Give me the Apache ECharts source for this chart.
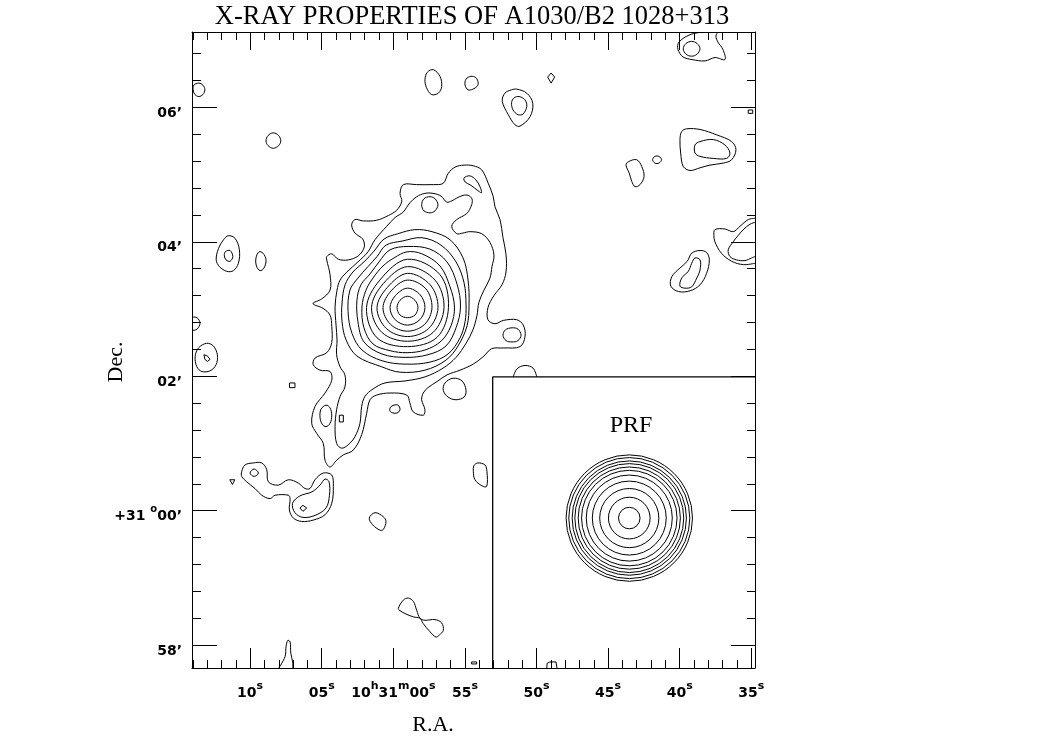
<!DOCTYPE html>
<html>
<head>
<meta charset="utf-8">
<script src="https://cdn.jsdelivr.net/npm/echarts@6/dist/echarts.min.js"></script>
<style>
  html, body { margin: 0; padding: 0; background: #fff; }
  #chart { width: 1039px; height: 742px; }
</style>
</head>
<body>
<div id="chart"></div>
<script>
// Axis ranges: x = RA seconds after 10h30m (east to the left), y = Dec offset from +31°00' in arcmin
const raRange = [34.74, 74.06];
const decRange = [-2.34, 7.12];

// Tick positions and labels
const raMajor = [70, 65, 60, 55, 50, 45, 40, 35];
const raMinor = [74, 73, 72, 71, 69, 68, 67, 66, 64, 63, 62, 61, 59, 58, 57, 56, 54, 53, 52, 51,
                 49, 48, 47, 46, 44, 43, 42, 41, 39, 38, 37, 36];
const raLabels = ['{n|10}{u|s}', '{n|05}{u|s}', '{n|10}{u|h}{n|31}{u|m}{n|00}{u|s}', '{n|55}{u|s}',
                  '{n|50}{u|s}', '{n|45}{u|s}', '{n|40}{u|s}', '{n|35}{u|s}'];
const decMajor = [6, 4, 2, 0, -2];
const decMinor = [6.8, 6.4, 5.6, 5.2, 4.8, 4.4, 3.6, 3.2, 2.8, 2.4, 1.6, 1.2, 0.8, 0.4,
                  -0.4, -0.8, -1.2, -1.6];
const decLabels = ['{n|06’}', '{n|04’}', '{n|02’}', '{n|+31 }{u|o}{n|00’}', '{n|58’}'];

// Cluster emission: nested iso-intensity contours [RA s, Dec ']
const ring1 = [[58.28,3.02],[58.49,3.13],[59.01,3.19],[59.53,3.13],[59.74,3.02],[59.53,2.91],[59.01,2.87],[58.49,2.91]];
const ring2 = [[57.79,3.02],[58.12,3.21],[59.01,3.31],[59.85,3.20],[60.23,3.02],[59.87,2.84],[59.01,2.76],[58.15,2.84]];
const ring3 = [[57.30,3.02],[57.73,3.30],[59.01,3.43],[60.15,3.27],[60.72,3.02],[60.19,2.77],[59.01,2.67],[57.82,2.77]];
const ring4 = [[56.88,3.02],[57.43,3.36],[59.01,3.53],[60.42,3.32],[61.14,3.02],[60.49,2.71],[59.01,2.59],[57.53,2.71]];
const ring5 = [[56.46,3.02],[57.09,3.43],[59.01,3.63],[60.69,3.38],[61.52,3.02],[60.79,2.65],[59.01,2.52],[57.23,2.65]];
const ring6 = [[56.15,3.02],[56.74,3.51],[59.01,3.74],[60.94,3.43],[61.87,3.02],[61.13,2.57],[59.01,2.44],[56.94,2.58]];
const ring7 = [[55.73,3.03],[56.04,3.33],[56.74,3.64],[58.00,3.82],[59.04,3.85],[59.95,3.76],[60.72,3.64],[61.42,3.46],
  [61.91,3.28],[62.19,3.03],[62.05,2.72],[61.42,2.48],[60.23,2.38],[59.04,2.35],[57.79,2.39],[56.67,2.52],[55.97,2.75]];
const ring8 = [[55.31,3.03],[55.55,3.37],[56.25,3.70],[57.44,3.89],[58.97,3.93],[60.23,3.88],[61.00,3.70],[61.63,3.52],
  [62.26,3.36],[62.54,3.13],[62.47,2.81],[62.05,2.51],[60.79,2.33],[59.18,2.28],[57.58,2.32],[56.32,2.45],[55.62,2.72]];
const ring9 = [[54.92,3.06],[55.06,3.39],[55.62,3.70],[56.67,3.95],[58.00,4.06],[59.39,4.01],[60.51,3.95],[61.14,3.78],
  [61.77,3.63],[62.47,3.46],[63.03,3.28],[63.16,2.96],[62.89,2.64],[62.19,2.39],[60.79,2.23],[59.18,2.18],[57.44,2.21],
  [56.18,2.33],[55.34,2.57],[54.99,2.81]];
const ring10 = [[54.71,3.06],[54.78,3.43],[55.13,3.76],[56.04,4.03],[57.30,4.15],[58.49,4.18],[59.67,4.12],[60.65,4.04],
  [61.35,3.86],[62.05,3.70],[62.82,3.55],[63.37,3.36],[63.58,3.09],[63.58,2.81],[63.30,2.54],[62.54,2.30],[60.81,2.14],
  [59.53,2.06],[57.79,2.09],[56.32,2.24],[55.48,2.45],[54.85,2.75]];
const clusterInner = [[60.46,4.23],[59.88,4.36],[59.32,4.44],[58.84,4.58],[58.37,4.67],[57.79,4.72],[57.23,4.72],[56.67,4.68],
  [56.27,4.59],[55.90,4.61],[55.57,4.65],[55.13,4.69],[54.77,4.69],[54.51,4.64],[54.53,4.55],[54.87,4.42],[55.57,4.33],
  [55.92,4.23],[55.57,4.12],[55.13,4.13],[54.65,4.15],[53.83,4.12],[53.25,3.99],[52.97,3.80],[53.11,3.63],[53.25,3.46],
  [53.67,3.28],[54.02,3.10],[54.16,2.90],[54.44,2.69],[54.92,2.49],[55.62,2.28],[56.53,2.12],[57.79,1.99],[59.18,1.93],
  [60.58,1.90],[61.42,1.81],[61.98,1.70],[62.21,1.55],[62.33,1.30],[62.68,1.10],[63.15,0.98],[63.61,0.93],[63.96,1.00],
  [64.07,1.25],[63.96,1.50],[63.72,1.70],[63.38,1.84],[63.38,2.02],[63.72,2.14],[63.96,2.32],[63.93,2.54],[64.00,2.76],
  [64.07,3.03],[63.93,3.28],[63.72,3.43],[63.24,3.55],[62.47,3.70],[61.77,3.85],[61.28,4.03]];
const clusterOuter = [[59.53,4.72],[59.30,4.85],[58.37,4.85],[57.21,4.85],[56.51,4.87],[56.16,5.02],[55.69,5.11],[55.06,5.14],
  [54.42,5.13],[53.83,5.07],[53.37,4.87],[53.02,4.67],[52.90,4.52],[52.55,4.33],[52.34,4.06],[52.13,3.81],[52.13,3.55],
  [52.41,3.36],[52.97,3.20],[53.39,3.02],[53.39,2.84],[52.90,2.78],[52.32,2.83],[51.38,2.84],[50.92,2.76],[50.80,2.59],
  [51.15,2.44],[52.32,2.42],[53.13,2.41],[53.67,2.30],[54.42,2.18],[55.34,2.09],[56.25,2.02],[56.95,1.92],[57.58,1.83],
  [57.91,1.75],[58.02,1.65],[57.79,1.50],[57.91,1.42],[58.61,1.47],[58.84,1.60],[59.06,1.72],[60.23,1.75],[61.16,1.72],
  [61.63,1.65],[61.86,1.45],[62.21,1.13],[62.80,0.90],[63.49,0.83],[63.96,0.75],[64.42,0.65],[64.77,0.75],[64.89,1.00],
  [65.35,1.15],[65.70,1.30],[65.47,1.55],[64.77,1.75],[64.30,1.94],[64.42,2.07],[65.12,2.09],[65.59,2.17],[65.47,2.27],
  [64.65,2.35],[64.30,2.50],[64.30,2.74],[64.42,2.91],[64.91,3.01],[65.61,3.08],[65.00,3.15],[64.42,3.28],[64.42,3.51],
  [64.65,3.73],[64.65,3.78],[64.30,3.82],[63.84,3.74],[63.15,3.73],[62.45,3.79],[62.03,3.92],[62.14,4.04],[62.68,4.13],
  [62.91,4.25],[62.68,4.33],[62.10,4.31],[61.16,4.32],[60.35,4.39],[59.76,4.47],[59.41,4.60]];

// Local peaks and knots around the cluster
const knotNorth = [[56.88,4.55],[57.09,4.64],[57.44,4.67],[57.86,4.64],[58.02,4.55],[57.86,4.46],[57.44,4.43],[57.09,4.46]];
const knotNorthEast = [[55.06,4.95],[54.65,4.98],[54.23,4.92],[53.95,4.82],[53.84,4.73],[54.09,4.76],[54.58,4.84],[54.99,4.89]];
const lobeEast = [[51.08,2.61],[51.29,2.70],[51.71,2.72],[52.17,2.69],[52.34,2.61],[52.13,2.53],[51.71,2.51],[51.29,2.53]];
const knotSW1 = [[64.30,1.41],[64.42,1.53],[64.70,1.57],[65.05,1.51],[65.12,1.39],[64.98,1.29],[64.70,1.25],[64.42,1.30]];
const knotSW2 = [[63.77,1.42],[63.49,1.42],[63.49,1.32],[63.77,1.32]];
const knotSouth = [[59.53,1.51],[59.67,1.57],[59.95,1.57],[60.20,1.54],[60.23,1.48],[59.95,1.45],[59.67,1.46]];
const knotSE = [[54.92,1.79],[55.20,1.93],[55.83,1.97],[56.39,1.90],[56.51,1.79],[56.18,1.69],[55.62,1.65],[55.06,1.69]];
const arcOnInset = [[51.62,1.99],[51.36,2.11],[50.80,2.16],[50.24,2.12],[49.98,1.99]];
const blobNearInset = [[54.09,0.71],[53.60,0.68],[53.46,0.58],[53.48,0.36],[53.81,0.37],[54.30,0.46],[54.41,0.58],[54.37,0.67]];
const dotWest = [[67.25,1.90],[66.87,1.90],[66.87,1.83],[67.25,1.83]];

// Northern field sources
const srcT1 = [[73.16,6.26],[73.30,6.33],[73.58,6.36],[73.93,6.33],[73.98,6.26],[73.86,6.19],[73.58,6.16],[73.30,6.19]];
const srcT2 = [[67.86,5.50],[68.01,5.58],[68.38,5.62],[68.75,5.58],[68.89,5.50],[68.75,5.43],[68.38,5.39],[68.01,5.43]];
const srcT3 = [[57.21,6.56],[56.74,6.46],[56.62,6.31],[56.86,6.21],[57.33,6.19],[57.68,6.29],[57.79,6.41],[57.63,6.52]];
const srcT4 = [[54.07,6.36],[54.23,6.44],[54.58,6.46],[54.92,6.42],[54.99,6.33],[54.78,6.26],[54.44,6.27],[54.16,6.31]];
const srcT5Outer = [[51.38,6.27],[50.68,6.21],[50.26,6.06],[50.45,5.86],[51.15,5.72],[51.50,5.74],[51.97,5.89],[52.39,6.09],[52.21,6.21],[51.74,6.26]];
const srcT5Inner = [[51.22,6.16],[50.80,6.11],[50.68,6.01],[50.94,5.90],[51.29,5.89],[51.64,5.96],[51.74,6.07],[51.57,6.14]];
const srcT6 = [[48.98,6.51],[48.73,6.45],[48.98,6.36],[49.22,6.45]];

// Western field sources (right-hand side of the map)
const srcR1Outer = [[38.37,7.12],[39.28,7.08],[40.05,6.97],[40.12,6.86],[39.77,6.75],[39.14,6.71],[38.23,6.69],[37.53,6.74],
  [36.84,6.71],[36.98,6.86],[37.33,6.97],[37.47,7.06],[37.33,7.12]];
const srcR1Inner = [[38.58,6.87],[38.79,6.95],[39.16,6.98],[39.56,6.95],[39.75,6.87],[39.56,6.79],[39.16,6.76],[38.79,6.79]];
const srcR2 = [[35.21,5.96],[34.90,5.96],[34.90,5.91],[35.21,5.91]];
const srcR3Outer = [[39.86,5.64],[39.51,5.68],[38.58,5.67],[37.42,5.59],[36.37,5.49],[36.07,5.37],[36.37,5.22],[36.96,5.17],
  [37.89,5.14],[38.58,5.10],[39.28,5.06],[39.75,5.12],[39.93,5.32],[39.98,5.52]];
const srcR3Inner = [[38.93,5.44],[38.58,5.49],[37.66,5.52],[36.84,5.44],[36.49,5.32],[36.72,5.24],[37.66,5.24],[38.58,5.27],[38.93,5.32]];
const srcR4 = [[41.27,5.22],[41.45,5.27],[41.73,5.27],[41.89,5.22],[41.73,5.17],[41.45,5.17]];
const srcR5 = [[43.59,5.19],[43.00,5.22],[42.65,5.12],[42.49,4.97],[42.77,4.85],[43.12,4.82],[43.35,4.90],[43.52,5.02],[43.75,5.14]];
const srcR6Outer = [[34.74,4.35],[35.21,4.33],[35.79,4.23],[36.26,4.15],[36.84,4.19],[37.54,4.18],[37.61,4.09],[37.54,4.00],
  [37.09,3.83],[36.37,3.71],[35.56,3.66],[34.74,3.68]];
const srcR6Inner = [[34.74,4.29],[35.09,4.26],[35.51,4.19],[35.93,4.09],[36.26,4.00],[36.61,3.88],[36.49,3.78],[36.02,3.73],
  [35.44,3.72],[34.97,3.76],[34.74,3.78]];
const srcR7Outer = [[38.58,3.87],[38.12,3.84],[37.93,3.73],[38.12,3.53],[38.58,3.36],[39.28,3.27],[40.09,3.26],[40.62,3.34],
  [40.55,3.48],[39.98,3.61],[39.47,3.71],[39.16,3.83]];
const srcR7Inner = [[38.93,3.76],[38.58,3.73],[38.58,3.58],[38.81,3.46],[39.16,3.33],[39.63,3.31],[39.98,3.34],[39.86,3.46],[39.40,3.56],[39.16,3.68]];

// Eastern field sources (left-hand side of the map)
const srcL1Outer = [[71.52,4.09],[71.05,4.05],[70.75,3.88],[70.82,3.68],[71.17,3.57],[71.63,3.56],[72.14,3.63],[72.37,3.73],[72.21,3.90],[71.86,4.03]];
const srcL1Inner = [[71.74,3.85],[71.40,3.87],[71.21,3.78],[71.40,3.71],[71.68,3.73],[71.80,3.79]];
const srcL2 = [[68.89,3.73],[69.10,3.83],[69.38,3.85],[69.59,3.76],[69.56,3.64],[69.31,3.57],[69.03,3.61]];
const srcL3 = [[74.06,2.88],[73.71,2.87],[73.50,2.79],[73.71,2.70],[74.06,2.68]];
const srcL4Outer = [[73.03,2.49],[72.57,2.45],[72.29,2.32],[72.38,2.17],[72.80,2.08],[73.37,2.07],[73.72,2.14],[73.84,2.29],[73.61,2.42]];
const srcL4Inner = [[73.23,2.32],[72.98,2.30],[72.80,2.25],[72.98,2.22],[73.16,2.25]];

// Southern field sources
const srcB1 = [[71.42,0.46],[71.07,0.46],[71.24,0.39]];
const srcB2Outer = [[70.59,0.58],[70.36,0.68],[69.78,0.71],[69.19,0.71],[68.84,0.61],[68.73,0.43],[68.03,0.38],[67.33,0.46],
  [66.63,0.41],[66.17,0.33],[65.82,0.33],[65.47,0.46],[64.89,0.56],[64.30,0.53],[64.19,0.36],[64.30,0.11],[64.77,-0.06],
  [65.59,-0.14],[66.40,-0.16],[66.98,-0.11],[67.26,0.01],[67.21,0.18],[67.33,0.23],[68.26,0.23],[68.61,0.18],[69.19,0.23],
  [69.66,0.33],[70.24,0.43],[70.59,0.51]];
const srcB2Inner = [[66.52,0.22],[65.68,0.28],[65.12,0.38],[64.77,0.47],[64.49,0.43],[64.46,0.23],[64.70,0.04],[65.47,-0.07],
  [66.31,-0.10],[66.87,-0.03],[67.04,0.11]];
const srcB2Peak = [[66.52,0.04],[66.31,0.08],[66.05,0.04],[66.31,-0.01]];
const srcB2Knot = [[69.42,0.56],[69.72,0.62],[70.01,0.56],[69.72,0.51]];
const srcB3 = [[61.28,-0.03],[60.70,-0.09],[60.51,-0.16],[60.70,-0.28],[60.93,-0.29],[61.44,-0.21],[61.68,-0.11]];
const srcB4 = [[59.65,-1.45],[59.30,-1.33],[58.95,-1.30],[58.60,-1.35],[58.37,-1.48],[58.14,-1.60],[57.79,-1.63],[57.09,-1.62],
  [56.62,-1.67],[56.51,-1.78],[56.79,-1.85],[57.02,-1.88],[57.44,-1.80],[57.91,-1.68],[58.14,-1.60],[58.60,-1.58],[59.18,-1.53],[59.58,-1.48]];
const srcB5 = [[68.00,-2.34],[67.56,-2.17],[67.49,-2.02],[67.37,-1.93],[67.21,-1.95],[67.16,-2.12],[67.03,-2.25],[67.03,-2.34]];
const srcB6 = [[54.53,-2.25],[54.18,-2.25],[54.18,-2.28],[54.53,-2.28]];
const srcB7 = [[49.28,-2.34],[49.26,-2.27],[49.06,-2.25],[48.64,-2.25],[48.57,-2.34]];

// Point response function inset: centre [RA s, Dec '] and contour radii in arcmin
const prfCenter = [43.52, -0.11];
const prfRadii = [0.94, 0.90, 0.85, 0.81, 0.76, 0.71, 0.64, 0.55, 0.44, 0.31, 0.16];
const insetCorner = [53.06, 1.99];

const closedContours = [ring1, ring2, ring3, ring4, ring5, ring6, ring7, ring8, ring9, ring10,
  clusterInner, clusterOuter, knotNorth, knotNorthEast, lobeEast, knotSW1, knotSW2, knotSouth, knotSE,
  blobNearInset, dotWest, srcT1, srcT2, srcT3, srcT4, srcT5Outer, srcT5Inner, srcT6,
  srcR1Inner, srcR2, srcR3Outer, srcR3Inner, srcR4, srcR5, srcR7Outer, srcR7Inner,
  srcL1Outer, srcL1Inner, srcL2, srcL4Outer, srcL4Inner,
  srcB1, srcB2Outer, srcB2Inner, srcB2Peak, srcB2Knot, srcB3, srcB4, srcB6];
const openContours = [srcR1Outer, srcR6Outer, srcR6Inner, srcL3, arcOnInset, srcB5, srcB7];
const angularShapes = [knotSW2, dotWest, srcT6, srcR2, srcL4Inner, srcB1, srcB2Peak, srcB6, srcB7];

const INK = '#000';

function contourSeries(points, closed) {
  const smooth = angularShapes.indexOf(points) >= 0 ? 0 : 0.35;
  return {
    type: 'custom',
    coordinateSystem: 'cartesian2d',
    xAxisIndex: 0, yAxisIndex: 0,
    silent: true,
    clip: true,
    data: points,
    renderItem: function (params, api) {
      if (params.dataIndex !== 0) return null;
      const pts = points.map(function (p) { return api.coord(p); });
      return {
        type: closed ? 'polygon' : 'polyline',
        shape: { points: pts, smooth: smooth },
        style: { fill: 'none', stroke: INK, lineWidth: 1 }
      };
    }
  };
}

const series = [];
closedContours.forEach(function (c) { series.push(contourSeries(c, true)); });
openContours.forEach(function (c) { series.push(contourSeries(c, false)); });

// PRF circles
series.push({
  type: 'custom',
  coordinateSystem: 'cartesian2d',
  xAxisIndex: 0, yAxisIndex: 0,
  silent: true,
  data: prfRadii.map(function (r) { return [prfCenter[0], prfCenter[1], r]; }),
  renderItem: function (params, api) {
    const c = api.coord([api.value(0), api.value(1)]);
    const r = api.size([0, api.value(2)])[1];
    return { type: 'circle', shape: { cx: c[0], cy: c[1], r: r }, style: { fill: 'none', stroke: INK, lineWidth: 1 } };
  }
});

// Inset frame
series.push({
  type: 'line',
  xAxisIndex: 0, yAxisIndex: 0,
  silent: true,
  symbol: 'none',
  lineStyle: { color: INK, width: 1.3 },
  data: [[insetCorner[0], decRange[0]], insetCorner, [raRange[0], insetCorner[1]]]
});

const tickFont = 'DejaVu Sans';
const raRich = {
  n: { fontFamily: tickFont, fontWeight: 'bold', fontSize: 14, color: INK, lineHeight: 24 },
  u: { fontFamily: tickFont, fontWeight: 'bold', fontSize: 11, color: INK, lineHeight: 6, verticalAlign: 'top' }
};
const decRich = {
  n: { fontFamily: tickFont, fontWeight: 'bold', fontSize: 14, color: INK, lineHeight: 24 },
  u: { fontFamily: tickFont, fontWeight: 'bold', fontSize: 10, color: INK, lineHeight: 12, verticalAlign: 'top' }
};

function raAxis(position, ticks, len, showLine, labelled) {
  return {
    type: 'value', gridIndex: 0, position: position, inverse: true,
    min: raRange[0], max: raRange[1],
    axisLine: { show: showLine, onZero: false, lineStyle: { color: INK, width: 1 } },
    axisTick: { show: true, inside: true, length: len, customValues: ticks, lineStyle: { color: INK, width: 1 } },
    axisLabel: labelled ? {
      show: true, customValues: raMajor, margin: 13, rich: raRich,
      formatter: function (v) { const i = raMajor.indexOf(Math.round(v)); return i >= 0 ? raLabels[i] : ''; }
    } : { show: false },
    splitLine: { show: false }
  };
}
function decAxis(position, ticks, len, showLine, labelled) {
  return {
    type: 'value', gridIndex: 0, position: position,
    min: decRange[0], max: decRange[1],
    axisLine: { show: showLine, onZero: false, lineStyle: { color: INK, width: 1 } },
    axisTick: { show: true, inside: true, length: len, customValues: ticks, lineStyle: { color: INK, width: 1 } },
    axisLabel: labelled ? {
      show: true, customValues: decMajor, margin: 10, rich: decRich, padding: [12, 0, 0, 0],
      formatter: function (v) { const i = decMajor.indexOf(Math.round(v)); return i >= 0 ? decLabels[i] : ''; }
    } : { show: false },
    splitLine: { show: false }
  };
}

const serif = '"Liberation Serif", "Times New Roman", serif';

const option = {
  backgroundColor: '#fff',
  animation: false,
  grid: { left: 192, top: 32, width: 563, height: 636 },
  xAxis: [
    raAxis('bottom', raMajor, 20, true, true),
    raAxis('bottom', raMinor, 8, false, false),
    raAxis('top', raMajor, 18, true, false),
    raAxis('top', raMinor, 8, false, false)
  ],
  yAxis: [
    decAxis('left', decMajor, 25, true, true),
    decAxis('left', decMinor, 9, false, false),
    decAxis('right', decMajor, 24, true, false),
    decAxis('right', decMinor, 8, false, false)
  ],
  graphic: [
    { type: 'text', x: 472, y: 17, silent: true,
      style: { text: 'X-RAY PROPERTIES OF A1030/B2 1028+313', font: '26.5px ' + serif, fill: INK,
               align: 'center', verticalAlign: 'middle', textAlign: 'center', textVerticalAlign: 'middle' } },
    { type: 'text', x: 116, y: 362, rotation: Math.PI / 2, silent: true,
      style: { text: 'Dec.', font: '22px ' + serif, fill: INK,
               align: 'center', verticalAlign: 'middle', textAlign: 'center', textVerticalAlign: 'middle' } },
    { type: 'text', x: 433, y: 725, silent: true,
      style: { text: 'R.A.', font: '22px ' + serif, fill: INK,
               align: 'center', verticalAlign: 'middle', textAlign: 'center', textVerticalAlign: 'middle' } },
    { type: 'text', x: 631, y: 426, silent: true,
      style: { text: 'PRF', font: '24px ' + serif, fill: INK,
               align: 'center', verticalAlign: 'middle', textAlign: 'center', textVerticalAlign: 'middle' } }
  ],
  series: series
};

const chart = echarts.init(document.getElementById('chart'), null, { renderer: 'canvas' });
chart.setOption(option);
</script>
</body>
</html>
